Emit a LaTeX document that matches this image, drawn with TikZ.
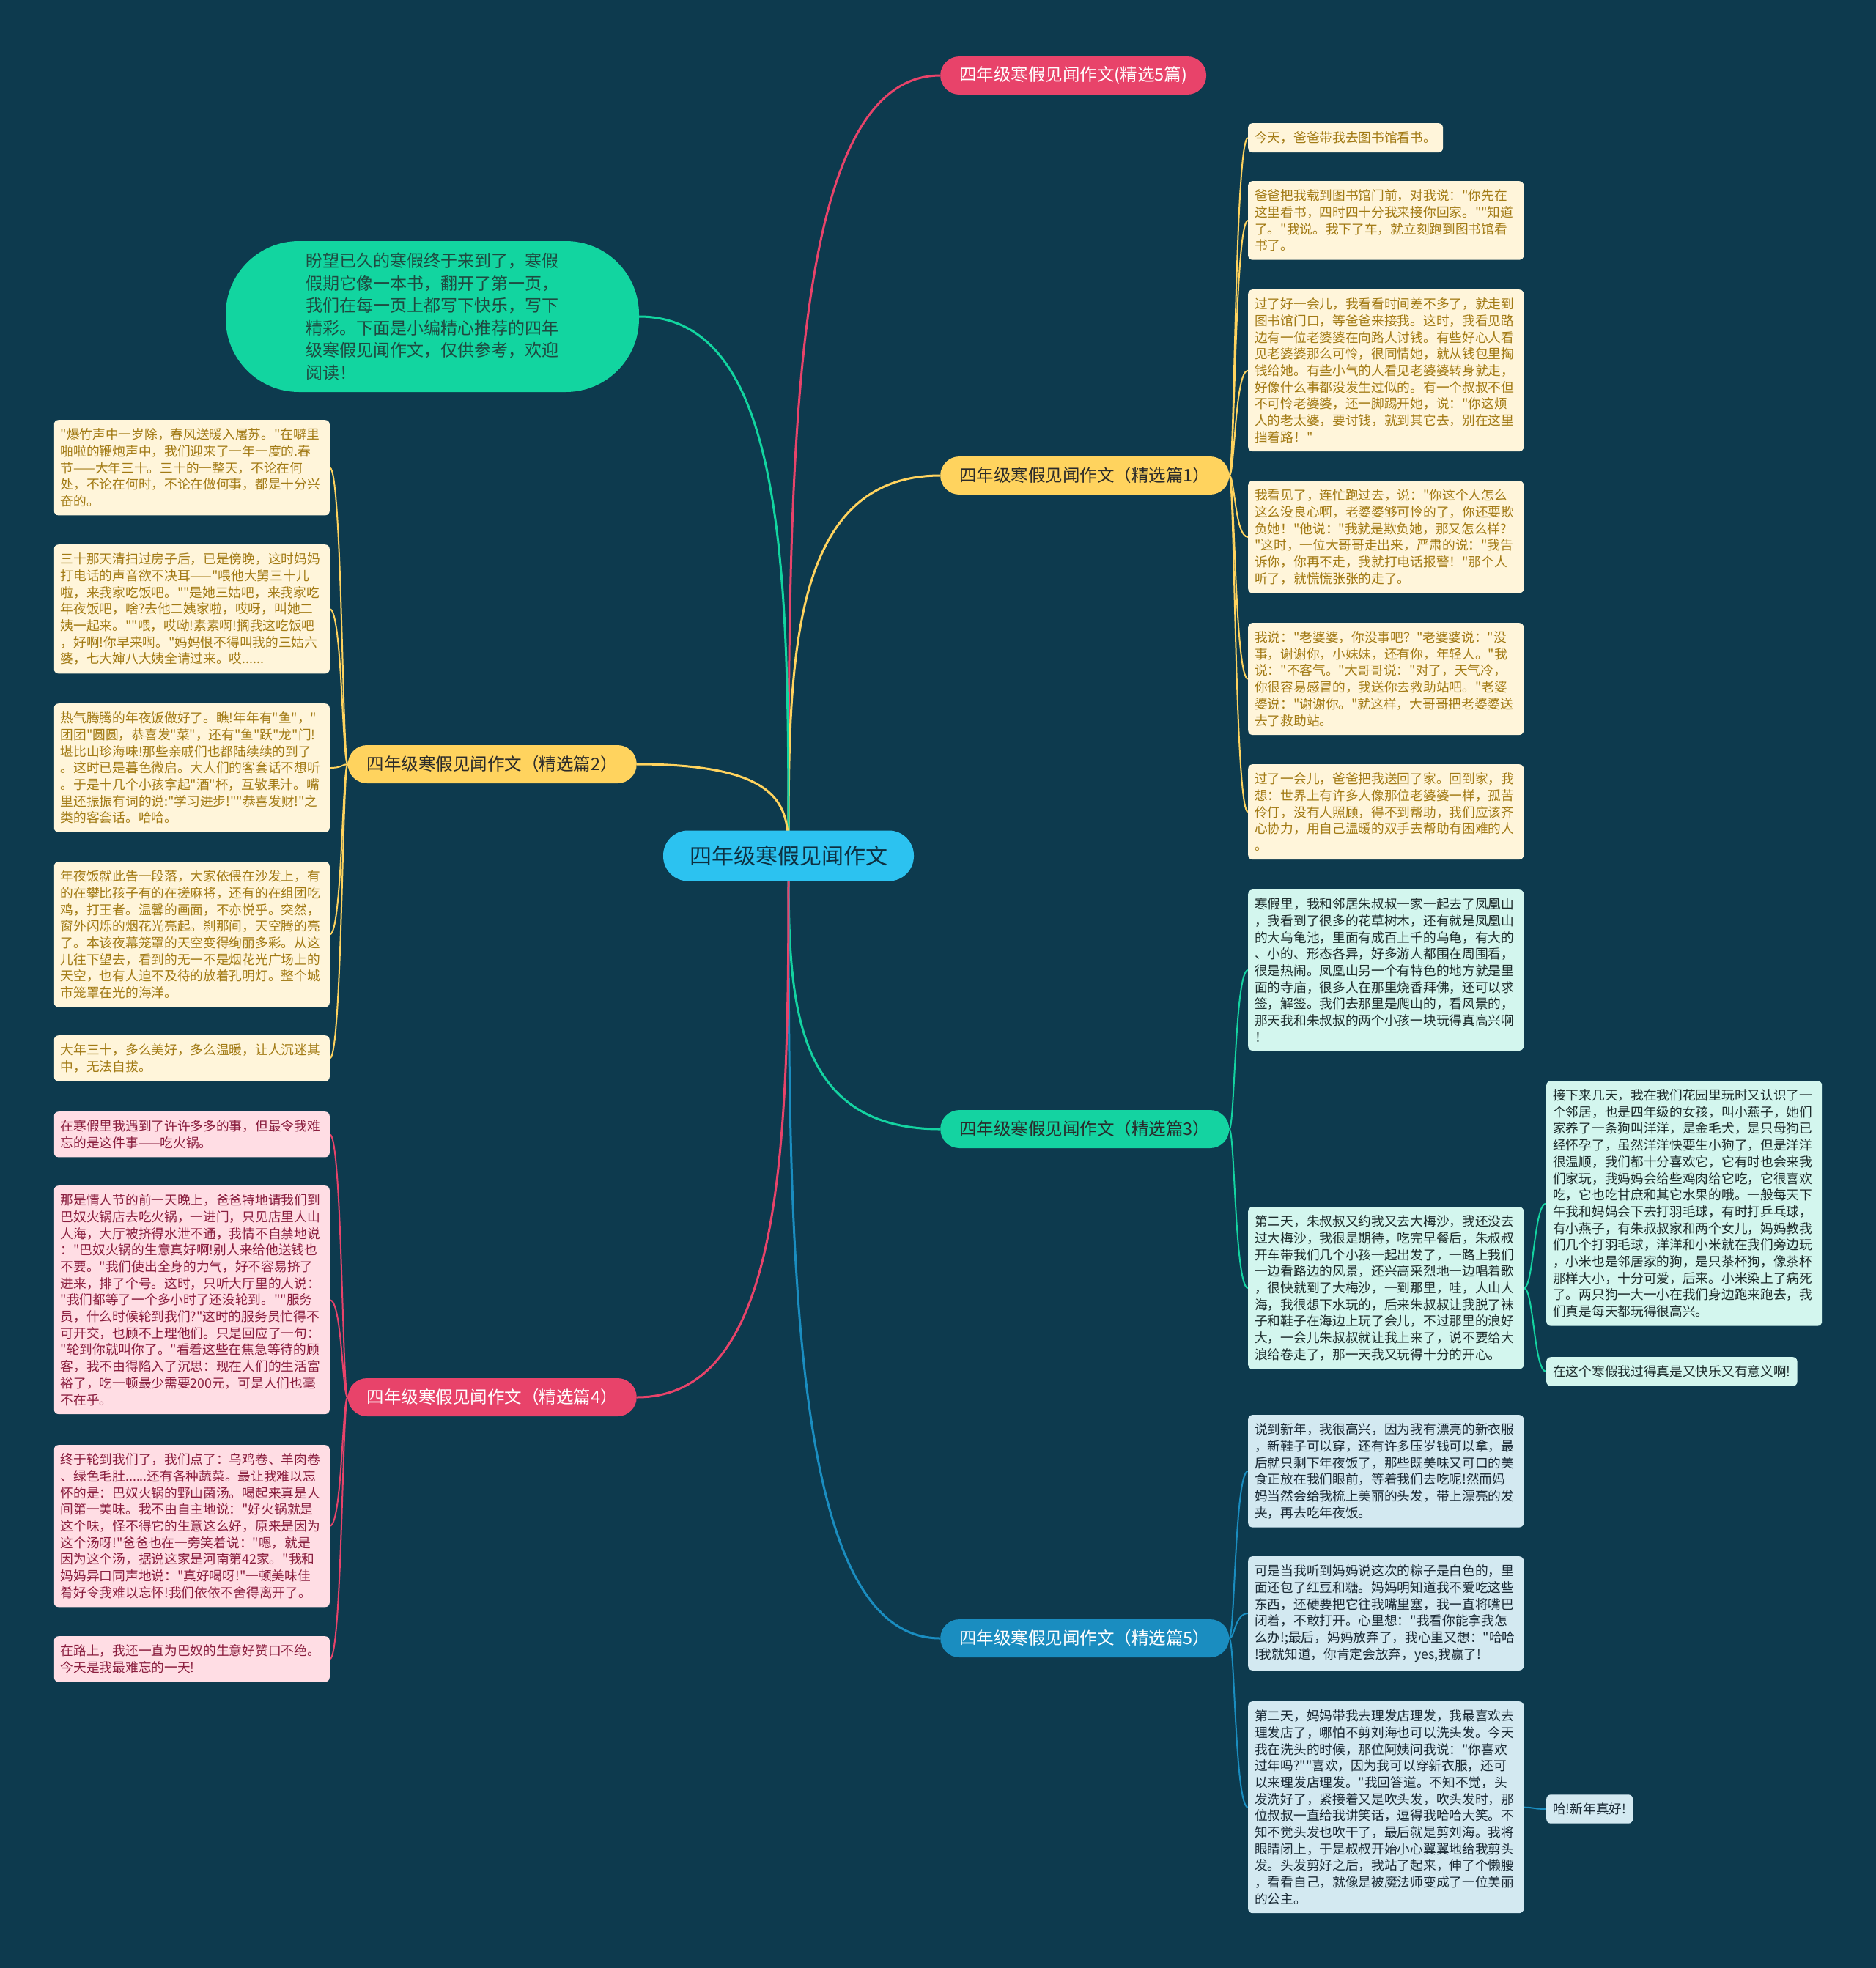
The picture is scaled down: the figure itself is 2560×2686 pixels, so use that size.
\documentclass[tikz,border=0pt]{standalone}
\usepackage{fontspec}
\setmainfont{Noto Sans CJK SC}[Ligatures=TeXOff]
\usepackage{xcolor}
\usetikzlibrary{calc}

\definecolor{mapbg}{HTML}{0D3A4E}
\definecolor{topicfill}{HTML}{2CC2F0}
\definecolor{topicink}{HTML}{0E2F40}
\definecolor{introfill}{HTML}{12D5A0}
\definecolor{introink}{HTML}{1F4A40}
\definecolor{pinkbr}{HTML}{E8436A}
\definecolor{yellowbr}{HTML}{FFD35E}
\definecolor{greenbr}{HTML}{14D3A1}
\definecolor{bluebr}{HTML}{1A8DC0}
\definecolor{branchink}{HTML}{2A2A2A}
\definecolor{leafyfill}{HTML}{FFF5DA}
\definecolor{leafyink}{HTML}{A27A14}
\definecolor{leafgfill}{HTML}{D3F6EE}
\definecolor{leafgink}{HTML}{1E2C2C}
\definecolor{leafpfill}{HTML}{FFDDE4}
\definecolor{leafpink}{HTML}{8A1E3E}
\definecolor{leafbfill}{HTML}{D3E9F1}
\definecolor{leafbink}{HTML}{1A2A35}

\pgfdeclarelayer{background}
\pgfsetlayers{background,main}

\newcommand\leaffont{\fontsize{17.7pt}{22.7pt}\selectfont}
\newcommand\branchfont{\fontsize{23.5pt}{28pt}\selectfont}
\newcommand\topicfont{\fontsize{30pt}{36pt}\selectfont}
\newcommand\introfont{\fontsize{23pt}{30.5pt}\selectfont}

\begin{document}
\begin{tikzpicture}[x=1pt, y=-1pt,
                    topic/.style={fill=topicfill, text=topicink, font=\topicfont,
                                  rounded corners=34pt, minimum width=342pt, minimum height=69pt},
                    intro/.style={fill=introfill, text=introink, font=\introfont, align=left,
                                  text width=345pt, rounded corners=100pt,
                                  minimum width=564pt, minimum height=206pt},
                    branch/.style={font=\branchfont, rounded corners=26pt, inner xsep=26pt,
                                   minimum height=52pt},
                    pian/.style={branch, minimum width=384pt},
                    leaf/.style={font=\leaffont, rounded corners=6pt, inner xsep=9pt,
                                 inner ysep=11.5pt, align=left},
                    wide/.style={text width=358pt},
                    leafy/.style={leaf, fill=leafyfill, text=leafyink},
                    leafg/.style={leaf, fill=leafgfill, text=leafgink},
                    leafp/.style={leaf, fill=leafpfill, text=leafpink},
                    leafb/.style={leaf, fill=leafbfill, text=leafbink}]

  \useasboundingbox (0,0) rectangle (2560,2686);

  %% 中心主题
  \node[topic] (c) at (1076,1168) {四年级寒假见闻作文};

  %% 导语
  \node[intro] (intro) at (590,432)
    {盼望已久的寒假终于来到了，寒假\\
     假期它像一本书，翻开了第一页，\\
     我们在每一页上都写下快乐，写下\\
     精彩。下面是小编精心推荐的四年\\
     级寒假见闻作文，仅供参考，欢迎\\
     阅读！};

  %% 各分支
  \node[branch, fill=pinkbr, text=white, anchor=west] (b0) at (1283,103)
    {四年级寒假见闻作文(精选5篇)};
  \node[pian, fill=yellowbr, text=branchink, anchor=west] (b1) at (1283,649)
    {四年级寒假见闻作文（精选篇1）};
  \node[pian, fill=yellowbr, text=branchink, anchor=east] (b2) at (869,1043)
    {四年级寒假见闻作文（精选篇2）};
  \node[pian, fill=greenbr, text=branchink, anchor=west] (b3) at (1283,1541)
    {四年级寒假见闻作文（精选篇3）};
  \node[pian, fill=pinkbr, text=white, anchor=east] (b4) at (869,1907)
    {四年级寒假见闻作文（精选篇4）};
  \node[pian, fill=bluebr, text=white, anchor=west] (b5) at (1283,2236)
    {四年级寒假见闻作文（精选篇5）};

  %% 精选篇1
  \node[leafy, anchor=north west] (r1) at (1703,168) {今天，爸爸带我去图书馆看书。};
  \node[leafy, wide, anchor=north west] (r2) at (1703,247)
    {爸爸把我载到图书馆门前，对我说："你先在\\
     这里看书，四时四十分我来接你回家。""知道\\
     了。"我说。我下了车，就立刻跑到图书馆看\\
     书了。};
  \node[leafy, wide, anchor=north west] (r3) at (1703,395)
    {过了好一会儿，我看看时间差不多了，就走到\\
     图书馆门口，等爸爸来接我。这时，我看见路\\
     边有一位老婆婆在向路人讨钱。有些好心人看\\
     见老婆婆那么可怜，很同情她，就从钱包里掏\\
     钱给她。有些小气的人看见老婆婆转身就走，\\
     好像什么事都没发生过似的。有一个叔叔不但\\
     不可怜老婆婆，还一脚踢开她，说："你这烦\\
     人的老太婆，要讨钱，就到其它去，别在这里\\
     挡着路！"};
  \node[leafy, wide, anchor=north west] (r4) at (1703,656)
    {我看见了，连忙跑过去，说："你这个人怎么\\
     这么没良心啊，老婆婆够可怜的了，你还要欺\\
     负她！"他说："我就是欺负她，那又怎么样?\\
     "这时，一位大哥哥走出来，严肃的说："我告\\
     诉你，你再不走，我就打电话报警！"那个人\\
     听了，就慌慌张张的走了。};
  \node[leafy, wide, anchor=north west] (r5) at (1703,850)
    {我说："老婆婆，你没事吧？"老婆婆说："没\\
     事，谢谢你，小妹妹，还有你，年轻人。"我\\
     说："不客气。"大哥哥说："对了，天气冷，\\
     你很容易感冒的，我送你去救助站吧。"老婆\\
     婆说："谢谢你。"就这样，大哥哥把老婆婆送\\
     去了救助站。};
  \node[leafy, wide, anchor=north west] (r6) at (1703,1043)
    {过了一会儿，爸爸把我送回了家。回到家，我\\
     想：世界上有许多人像那位老婆婆一样，孤苦\\
     伶仃，没有人照顾，得不到帮助，我们应该齐\\
     心协力，用自己温暖的双手去帮助有困难的人\\
     。};

  %% 精选篇3
  \node[leafg, wide, anchor=north west] (g1) at (1703,1214)
    {寒假里，我和邻居朱叔叔一家一起去了凤凰山\\
     ，我看到了很多的花草树木，还有就是凤凰山\\
     的大乌龟池，里面有成百上千的乌龟，有大的\\
     、小的、形态各异，好多游人都围在周围看，\\
     很是热闹。凤凰山另一个有特色的地方就是里\\
     面的寺庙，很多人在那里烧香拜佛，还可以求\\
     签，解签。我们去那里是爬山的，看风景的，\\
     那天我和朱叔叔的两个小孩一块玩得真高兴啊\\
     ！};
  \node[leafg, wide, anchor=north west] (g2) at (1703,1647)
    {第二天，朱叔叔又约我又去大梅沙，我还没去\\
     过大梅沙，我很是期待，吃完早餐后，朱叔叔\\
     开车带我们几个小孩一起出发了，一路上我们\\
     一边看路边的风景，还兴高采烈地一边唱着歌\\
     ，很快就到了大梅沙，一到那里，哇，人山人\\
     海，我很想下水玩的，后来朱叔叔让我脱了袜\\
     子和鞋子在海边上玩了会儿，不过那里的浪好\\
     大，一会儿朱叔叔就让我上来了，说不要给大\\
     浪给卷走了，那一天我又玩得十分的开心。};
  \node[leafg, wide, anchor=north west] (g3) at (2110,1475)
    {接下来几天，我在我们花园里玩时又认识了一\\
     个邻居，也是四年级的女孩，叫小燕子，她们\\
     家养了一条狗叫洋洋，是金毛犬，是只母狗已\\
     经怀孕了，虽然洋洋快要生小狗了，但是洋洋\\
     很温顺，我们都十分喜欢它，它有时也会来我\\
     们家玩，我妈妈会给些鸡肉给它吃，它很喜欢\\
     吃，它也吃甘庶和其它水果的哦。一般每天下\\
     午我和妈妈会下去打羽毛球，有时打乒乓球，\\
     有小燕子，有朱叔叔家和两个女儿，妈妈教我\\
     们几个打羽毛球，洋洋和小米就在我们旁边玩\\
     ，小米也是邻居家的狗，是只茶杯狗，像茶杯\\
     那样大小，十分可爱，后来。小米染上了病死\\
     了。两只狗一大一小在我们身边跑来跑去，我\\
     们真是每天都玩得很高兴。};
  \node[leafg, anchor=north west] (g4) at (2110,1852) {在这个寒假我过得真是又快乐又有意义啊!};

  %% 精选篇5
  \node[leafb, wide, anchor=north west] (u1) at (1703,1931)
    {说到新年，我很高兴，因为我有漂亮的新衣服\\
     ，新鞋子可以穿，还有许多压岁钱可以拿，最\\
     后就只剩下年夜饭了，那些既美味又可口的美\\
     食正放在我们眼前，等着我们去吃呢!然而妈\\
     妈当然会给我梳上美丽的头发，带上漂亮的发\\
     夹，再去吃年夜饭。};
  \node[leafb, wide, anchor=north west] (u2) at (1703,2124)
    {可是当我听到妈妈说这次的粽子是白色的，里\\
     面还包了红豆和糖。妈妈明知道我不爱吃这些\\
     东西，还硬要把它往我嘴里塞，我一直将嘴巴\\
     闭着，不敢打开。心里想："我看你能拿我怎\\
     么办!;最后，妈妈放弃了，我心里又想："哈哈\\
     !我就知道，你肯定会放弃，yes,我赢了!};
  \node[leafb, wide, anchor=north west] (u3) at (1703,2322)
    {第二天，妈妈带我去理发店理发，我最喜欢去\\
     理发店了，哪怕不剪刘海也可以洗头发。今天\\
     我在洗头的时候，那位阿姨问我说："你喜欢\\
     过年吗?""喜欢，因为我可以穿新衣服，还可\\
     以来理发店理发。"我回答道。不知不觉，头\\
     发洗好了，紧接着又是吹头发，吹头发时，那\\
     位叔叔一直给我讲笑话，逗得我哈哈大笑。不\\
     知不觉头发也吹干了，最后就是剪刘海。我将\\
     眼睛闭上，于是叔叔开始小心翼翼地给我剪头\\
     发。头发剪好之后，我站了起来，伸了个懒腰\\
     ，看看自己，就像是被魔法师变成了一位美丽\\
     的公主。};
  \node[leafb, anchor=west] (u4) at (2110,2469) {哈!新年真好!};

  %% 精选篇2
  \node[leafy, wide, anchor=north east] (y1) at (450,573)
    {"爆竹声中一岁除，春风送暖入屠苏。"在噼里\\
     啪啦的鞭炮声中，我们迎来了一年一度的.春\\
     节——大年三十。三十的一整天，不论在何\\
     处，不论在何时，不论在做何事，都是十分兴\\
     奋的。};
  \node[leafy, wide, anchor=north east] (y2) at (450,743)
    {三十那天清扫过房子后，已是傍晚，这时妈妈\\
     打电话的声音欲不决耳——"喂他大舅三十儿\\
     啦，来我家吃饭吧。""是她三姑吧，来我家吃\\
     年夜饭吧，啥?去他二姨家啦，哎呀，叫她二\\
     姨一起来。""喂，哎呦!素素啊!搁我这吃饭吧\\
     ，好啊!你早来啊。"妈妈恨不得叫我的三姑六\\
     婆，七大婶八大姨全请过来。哎......};
  \node[leafy, wide, anchor=north east] (y3) at (450,960)
    {热气腾腾的年夜饭做好了。瞧!年年有"鱼"，"\\
     团团"圆圆，恭喜发"菜"，还有"鱼"跃"龙"门!\\
     堪比山珍海味!那些亲戚们也都陆续续的到了\\
     。这时已是暮色微启。大人们的客套话不想听\\
     。于是十几个小孩拿起"酒"杯，互敬果汁。嘴\\
     里还振振有词的说:"学习进步!""恭喜发财!"之\\
     类的客套话。哈哈。};
  \node[leafy, wide, anchor=north east] (y4) at (450,1176)
    {年夜饭就此告一段落，大家依偎在沙发上，有\\
     的在攀比孩子有的在搓麻将，还有的在组团吃\\
     鸡，打王者。温馨的画面，不亦悦乎。突然，\\
     窗外闪烁的烟花光亮起。刹那间，天空腾的亮\\
     了。本该夜幕笼罩的天空变得绚丽多彩。从这\\
     儿往下望去，看到的无一不是烟花光广场上的\\
     天空，也有人迫不及待的放着孔明灯。整个城\\
     市笼罩在光的海洋。};
  \node[leafy, wide, anchor=north east] (y5) at (450,1413)
    {大年三十，多么美好，多么温暖，让人沉迷其\\
     中，无法自拔。};

  %% 精选篇4
  \node[leafp, wide, anchor=north east] (p1) at (450,1517)
    {在寒假里我遇到了许许多多的事，但最令我难\\
     忘的是这件事——吃火锅。};
  \node[leafp, wide, anchor=north east] (p2) at (450,1618)
    {那是情人节的前一天晚上，爸爸特地请我们到\\
     巴奴火锅店去吃火锅，一进门，只见店里人山\\
     人海，大厅被挤得水泄不通，我情不自禁地说\\
     ："巴奴火锅的生意真好啊!别人来给他送钱也\\
     不要。"我们使出全身的力气，好不容易挤了\\
     进来，排了个号。这时，只听大厅里的人说：\\
     "我们都等了一个多小时了还没轮到。""服务\\
     员，什么时候轮到我们?"这时的服务员忙得不\\
     可开交，也顾不上理他们。只是回应了一句：\\
     "轮到你就叫你了。"看着这些在焦急等待的顾\\
     客，我不由得陷入了沉思：现在人们的生活富\\
     裕了，吃一顿最少需要200元，可是人们也毫\\
     不在乎。};
  \node[leafp, wide, anchor=north east] (p3) at (450,1972)
    {终于轮到我们了，我们点了：乌鸡卷、羊肉卷\\
     、绿色毛肚......还有各种蔬菜。最让我难以忘\\
     怀的是：巴奴火锅的野山菌汤。喝起来真是人\\
     间第一美味。我不由自主地说："好火锅就是\\
     这个味，怪不得它的生意这么好，原来是因为\\
     这个汤呀!"爸爸也在一旁笑着说："嗯，就是\\
     因为这个汤，据说这家是河南第42家。"我和\\
     妈妈异口同声地说："真好喝呀!"一顿美味佳\\
     肴好令我难以忘怀!我们依依不舍得离开了。};
  \node[leafp, wide, anchor=north east] (p4) at (450,2233)
    {在路上，我还一直为巴奴的生意好赞口不绝。\\
     今天是我最难忘的一天!};

  %% 连线都放在底层
  \begin{pgfonlayer}{background}
    \fill[mapbg] (0,0) rectangle (2560,2686);

    %% 中心到各分支
    \foreach \b/\a/\col in {b0/west/pinkbr, b1/west/yellowbr, b3/west/greenbr,
                            b5/west/bluebr, intro/east/introfill,
                            b2/east/yellowbr, b4/east/pinkbr}
      \draw[\col, line width=3pt]
        (c.center) .. controls ($(c.center)!0.5!(c.center |- \b.\a)$)
                   and (c.center |- \b.\a) .. (\b.\a);

    %% 分支到段落
    \coordinate (mr) at (1685,0);
    \coordinate (ml) at (467,0);
    \coordinate (mf) at (2093,0);
    \foreach \l in {r1,r2,r3,r4,r5,r6}
      \draw[yellowbr, line width=2pt]
        (b1.east) .. controls (mr |- b1.east) and (mr |- \l.west) .. (\l.west);
    \foreach \l in {g1,g2}
      \draw[greenbr, line width=2pt]
        (b3.east) .. controls (mr |- b3.east) and (mr |- \l.west) .. (\l.west);
    \foreach \l in {g3,g4}
      \draw[greenbr, line width=2pt]
        (g2.east) .. controls (mf |- g2.east) and (mf |- \l.west) .. (\l.west);
    \foreach \l in {u1,u2,u3}
      \draw[bluebr, line width=2pt]
        (b5.east) .. controls (mr |- b5.east) and (mr |- \l.west) .. (\l.west);
    \draw[bluebr, line width=2pt]
      (u3.east) .. controls (mf |- u3.east) and (mf |- u4.west) .. (u4.west);
    \foreach \l in {y1,y2,y3,y4,y5}
      \draw[yellowbr, line width=2pt]
        (b2.west) .. controls (ml |- b2.west) and (ml |- \l.east) .. (\l.east);
    \foreach \l in {p1,p2,p3,p4}
      \draw[pinkbr, line width=2pt]
        (b4.west) .. controls (ml |- b4.west) and (ml |- \l.east) .. (\l.east);
  \end{pgfonlayer}

\end{tikzpicture}
\end{document}
